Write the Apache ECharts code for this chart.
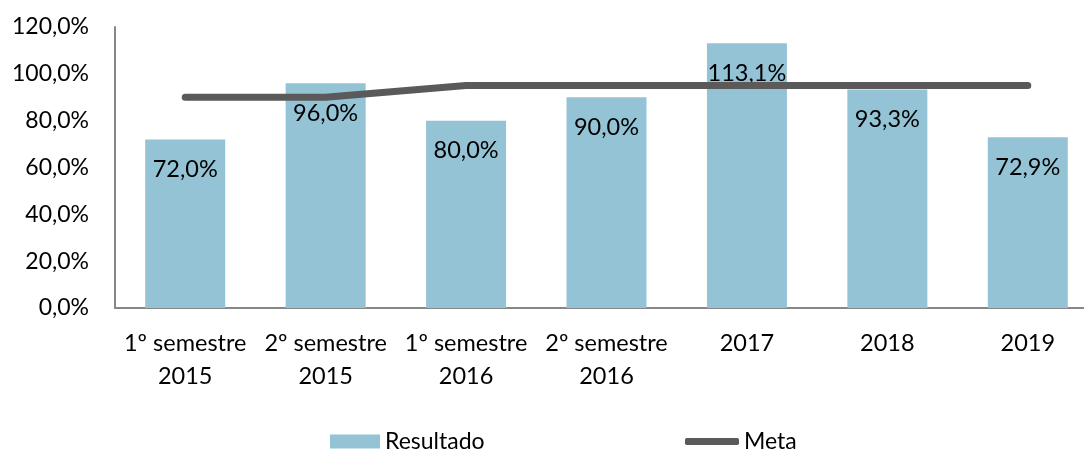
<!DOCTYPE html>
<html style="height: 100%;">
<head>
<meta charset="utf-8">
<title>Resultado x Meta</title>
<script src="https://cdn.jsdelivr.net/npm/echarts@6/dist/echarts.min.js"></script>
<style>
    html, body { margin: 0; height: 100%; background: #fff; overflow: hidden; }
    /* o grafico original foi cortado a direita: area maior que a janela */
    #container { width: 1099px; height: 450px; }
</style>
</head>
<body>
<div id="container"></div>
<script>
// dados
var categorias = ['1º semestre\n2015', '2º semestre\n2015', '1º semestre\n2016', '2º semestre\n2016', '2017', '2018', '2019'];
var resultado = [72.0, 96.0, 80.0, 90.0, 113.1, 93.3, 72.9];
var meta = [90, 90, 95, 95, 95, 95, 95];
var yTicks = [0, 20, 40, 60, 80, 100, 120];

var fonte = 'Lato, "Open Sans", sans-serif';
function pct(v) { return v.toFixed(1).replace('.', ',') + '%'; }

var myChart = echarts.init(document.getElementById('container'));
var option = {
    animation: false,
    textStyle: { fontFamily: fonte, color: '#000' },
    grid: { left: 115, right: 1, top: 27, bottom: 142, outerBoundsMode: 'none' },
    legend: [
        {
            data: [{ name: 'Resultado', icon: 'rect' }],
            left: 325, top: 425,
            itemWidth: 50, itemHeight: 14, itemGap: 5,
            textStyle: { fontFamily: fonte, fontSize: 23, color: '#000' }
        },
        {
            data: [{ name: 'Meta', icon: 'roundRect' }],
            left: 680, top: 425,
            itemWidth: 54, itemHeight: 7, itemGap: 3,
            textStyle: { fontFamily: fonte, fontSize: 23, color: '#000' }
        }
    ],
    xAxis: {
        type: 'category',
        data: categorias,
        axisLine: { lineStyle: { color: '#878787', width: 2 } },
        axisTick: { show: false },
        axisLabel: { interval: 0, fontSize: 23.5, color: '#000', lineHeight: 33, margin: 19, fontFamily: fonte }
    },
    yAxis: {
        type: 'value',
        min: yTicks[0], max: yTicks[yTicks.length - 1], interval: 20,
        axisLine: { show: true, lineStyle: { color: '#878787', width: 2 } },
        axisTick: { show: false },
        splitLine: { show: false },
        axisLabel: { fontSize: 23, color: '#000', margin: 26, fontFamily: fonte, formatter: function (v) { return pct(v); } }
    },
    series: [
        {
            name: 'Resultado',
            type: 'bar',
            data: resultado,
            barWidth: 80,
            itemStyle: { color: '#93C3D5' },
            label: {
                show: true, position: 'insideTop', distance: 18,
                fontSize: 23.5, color: '#000', fontFamily: fonte,
                formatter: function (p) { return pct(p.value); }
            },
            z: 2
        },
        {
            name: 'Meta',
            type: 'line',
            data: meta,
            symbol: 'none',
            itemStyle: { color: '#5A5A5A' },
            lineStyle: { color: '#5A5A5A', width: 7, cap: 'round', join: 'round' },
            z: 3
        }
    ]
};
myChart.setOption(option);
</script>
</body>
</html>
